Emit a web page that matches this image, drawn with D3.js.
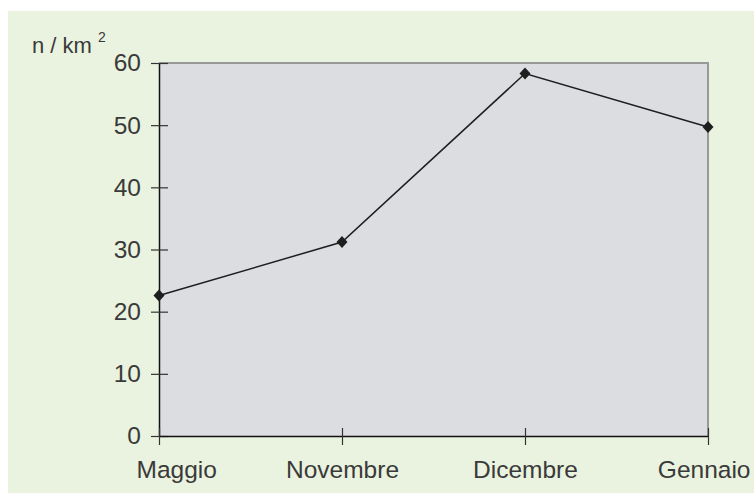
<!DOCTYPE html>
<html>
<head>
<meta charset="utf-8">
<script src="https://cdn.jsdelivr.net/npm/d3@7"></script>
<style>
  html, body { margin: 0; padding: 0; background: #ffffff; }
  svg { display: block; }
  text { font-family: "Liberation Sans", Arial, Helvetica, sans-serif; fill: #3a3a3a; }
</style>
</head>
<body>
<svg id="chart" width="754" height="493"></svg>
<script>
// Density over the season
const months = ["Maggio", "Novembre", "Dicembre", "Gennaio"];
const density = [22.6, 31.2, 58.3, 49.7];
const yTicks = [0, 10, 20, 30, 40, 50, 60];
const yLabel = "n / km";

const W = 754, H = 493;
const margin = { left: 159, right: 46, top: 63, bottom: 57 };
const FS = 24.5;
const svg = d3.select("#chart");

// panel background
svg.append("rect")
  .attr("x", 8).attr("y", 11)
  .attr("width", W - 8).attr("height", H - 11)
  .attr("fill", "#eaf3df");

const x = d3.scalePoint()
  .domain(months)
  .range([margin.left, W - margin.right])
  .padding(0);

const y = d3.scaleLinear()
  .domain([0, 60])
  .range([H - margin.bottom, margin.top]);

// plot area
svg.append("rect")
  .attr("x", x.range()[0]).attr("y", y(60))
  .attr("width", x.range()[1] - x.range()[0])
  .attr("height", y(0) - y(60))
  .attr("fill", "#dcdde0");

// top and right frame
svg.append("path")
  .attr("d", `M${x.range()[0]},${y(60)}H${x.range()[1]}V${y(0)}`)
  .attr("fill", "none")
  .attr("stroke", "#999999")
  .attr("stroke-width", 2);

// y axis
const yAxis = svg.append("g")
  .attr("transform", `translate(${margin.left},0)`)
  .call(d3.axisLeft(y).tickValues(yTicks).tickSize(8).tickPadding(10).tickSizeOuter(0));
yAxis.select(".domain").attr("stroke", "#111").attr("stroke-width", 1.5);
yAxis.selectAll(".tick line")
  .attr("x1", -8).attr("x2", 9)
  .attr("stroke", "#333").attr("stroke-width", 1.2);
yAxis.selectAll(".tick text")
  .attr("font-size", FS)
  .attr("font-family", "Liberation Sans, Arial, sans-serif")
  .attr("fill", "#3a3a3a");

// x axis
const xAxis = svg.append("g")
  .attr("transform", `translate(0,${y(0)})`)
  .call(d3.axisBottom(x).tickSize(9).tickPadding(16).tickSizeOuter(0));
xAxis.select(".domain").attr("stroke", "#111").attr("stroke-width", 1.5);
xAxis.selectAll(".tick line")
  .attr("y1", -8).attr("y2", 9)
  .attr("stroke", "#333").attr("stroke-width", 1.2);
xAxis.selectAll(".tick text")
  .attr("font-size", FS)
  .attr("font-family", "Liberation Sans, Arial, sans-serif")
  .attr("fill", "#3a3a3a");
// end labels kept inside the panel
xAxis.selectAll(".tick text").filter(d => d === months[0])
  .attr("text-anchor", "start").attr("dx", -23);
xAxis.selectAll(".tick text").filter(d => d === months[months.length - 1])
  .attr("text-anchor", "end").attr("dx", 42);

// unit label
const lab = svg.append("text")
  .attr("x", 32).attr("y", 53)
  .attr("font-size", 22);
lab.append("tspan").text(yLabel);
lab.append("tspan").text("2").attr("font-size", 14).attr("dx", 6).attr("dy", -11);

// line
const line = d3.line()
  .x((d, i) => x(months[i]))
  .y(d => y(d));

svg.append("path")
  .datum(density)
  .attr("d", line)
  .attr("fill", "none")
  .attr("stroke", "#1e1e1e")
  .attr("stroke-width", 1.5);

// diamond markers
svg.append("g").selectAll("path")
  .data(density)
  .join("path")
  .attr("transform", (d, i) => `translate(${x(months[i])},${y(d)})`)
  .attr("d", "M0,-6L5.5,0L0,6L-5.5,0Z")
  .attr("fill", "#1e1e1e");
</script>
</body>
</html>
